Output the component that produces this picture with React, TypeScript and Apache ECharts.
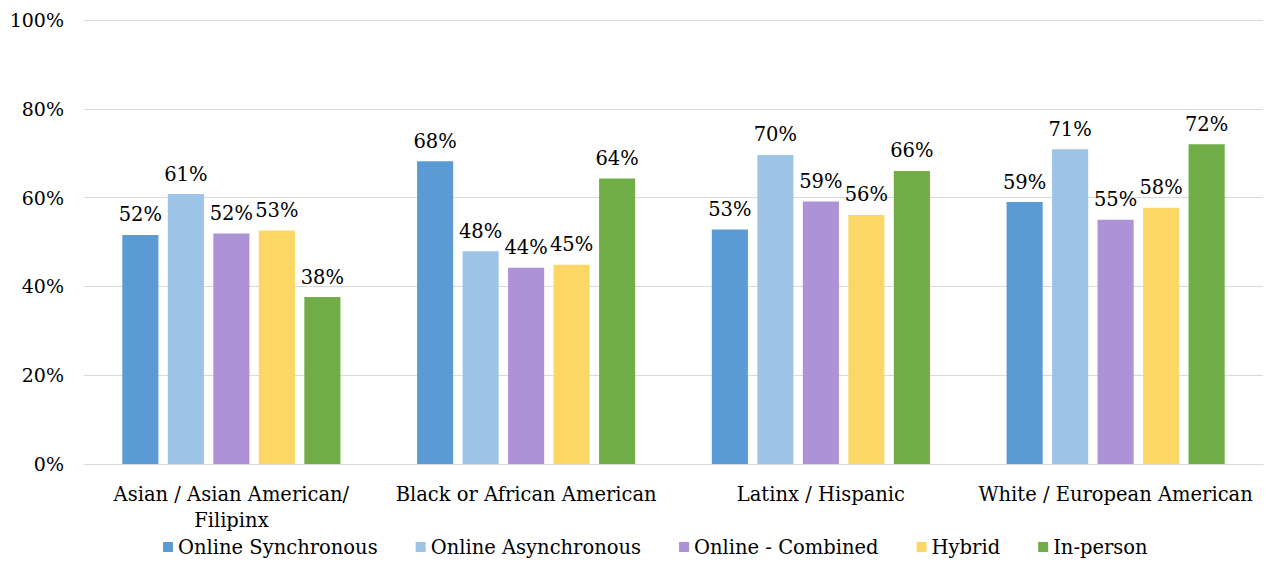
import React, { useEffect, useRef } from "react";
import * as echarts from "echarts";

const categories = [
  "Asian / Asian American/ Filipinx",
  "Black or African American",
  "Latinx / Hispanic",
  "White / European American",
];
const seriesNames = [
  "Online Synchronous",
  "Online Asynchronous",
  "Online - Combined",
  "Hybrid",
  "In-person",
];
const onlineSync = [51.6, 68.2, 52.8, 59.0];
const onlineAsync = [60.8, 47.9, 69.6, 70.9];
const onlineCombined = [51.9, 44.2, 59.1, 55.0];
const hybrid = [52.6, 44.9, 56.1, 57.7];
const inPerson = [37.6, 64.3, 66.0, 72.0];
const colors = ["#5B9BD5", "#9DC3E6", "#AE92D8", "#FDD766", "#70AD47"];
const yTicks = [0, 20, 40, 60, 80, 100];

const FONT = "DejaVu Serif";
const FS = 19.5;

export default function App() {
  const ref = useRef<HTMLDivElement>(null);
  useEffect(() => {
    if (!ref.current) return;
    const chart = echarts.init(ref.current, undefined, { renderer: "svg" });
    const data = [onlineSync, onlineAsync, onlineCombined, hybrid, inPerson];
    chart.setOption({
      animation: false,
      textStyle: { fontFamily: FONT },
      grid: { left: 84, right: 4, top: 20, bottom: 102, containLabel: false },
      legend: {
        bottom: 4,
        left: 158,
        itemWidth: 10,
        itemHeight: 10,
        itemGap: 38,
        icon: "rect",
        data: seriesNames,
        textStyle: { fontFamily: FONT, fontSize: 19.5, color: "#000" },
      },
      xAxis: {
        type: "category",
        data: categories,
        axisLine: { show: true, lineStyle: { color: "#D9D9D9" } },
        axisTick: { show: false },
        axisLabel: {
          fontFamily: FONT,
          fontSize: FS,
          color: "#000",
          margin: 17,
          lineHeight: 26,
          interval: 0,
          formatter: (v: string) => v.replace("American/ ", "American/\n"),
        },
      },
      yAxis: {
        type: "value",
        min: 0,
        max: 100,
        interval: 20,
        axisLine: { show: false },
        axisTick: { show: false },
        splitLine: { lineStyle: { color: "#D9D9D9" } },
        axisLabel: {
          fontFamily: FONT,
          fontSize: 19,
          color: "#000",
          margin: 20,
          formatter: (v: number) => (yTicks.includes(v) ? `${v}%` : ""),
        },
      },
      series: seriesNames.map((name, i) => ({
        name,
        type: "bar",
        data: data[i],
        barGap: "26%",
        barCategoryGap: "26%",
        itemStyle: { color: colors[i] },
        label: {
          show: true,
          position: "top",
          distance: 10,
          fontFamily: FONT,
          fontSize: FS,
          color: "#000",
          formatter: (p: any) => `${Math.round(p.value)}%`,
        },
      })),
    });
    return () => chart.dispose();
  }, []);
  return (
    <div
      ref={ref}
      style={{ position: "absolute", left: 0, top: 0, width: 1267, height: 566 }}
    />
  );
}
